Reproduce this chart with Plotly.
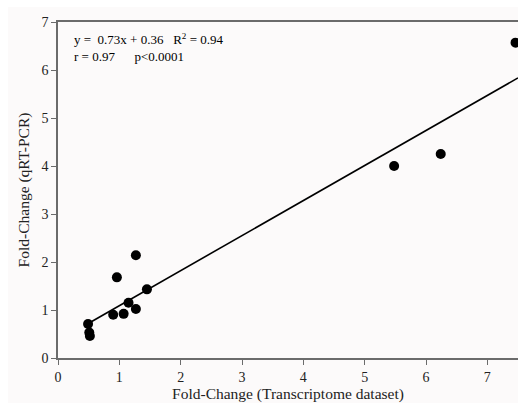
import plotly.graph_objects as go

# Data
transcriptome_fc = [0.49, 0.51, 0.52, 0.90, 0.96, 1.07, 1.15, 1.27, 1.27, 1.45, 5.48, 6.24, 7.46]
qrtpcr_fc = [0.71, 0.53, 0.46, 0.90, 1.68, 0.92, 1.15, 2.14, 1.02, 1.43, 4.00, 4.25, 6.57]
slope = 0.73
intercept = 0.36
fit_x = [0.5, 7.5]
fit_y = [slope * v + intercept for v in fit_x]
x_ticks = [0, 1, 2, 3, 4, 5, 6, 7]
y_ticks = [0, 1, 2, 3, 4, 5, 6, 7]

FONT = "Liberation Serif, Times New Roman, serif"
AXIS_COLOR = "#6b6b6b"
W, H = 518, 403
ML, MR, MT, MB = 58, 0, 22, 45
PW, PH = W - ML - MR, H - MT - MB

fig = go.Figure()
fig.add_trace(go.Scatter(x=fit_x, y=fit_y, mode="lines",
                         line=dict(color="black", width=1.6), showlegend=False, hoverinfo="skip"))
fig.add_trace(go.Scatter(x=transcriptome_fc, y=qrtpcr_fc, mode="markers",
                         marker=dict(color="black", size=10), showlegend=False, cliponaxis=False))

fig.add_annotation(xref="paper", yref="paper", x=0.03, y=0.978, xanchor="left", yanchor="top",
                   align="left", showarrow=False,
                   text="y =  0.73x + 0.36   R<sup>2</sup> = 0.94<br>r = 0.97      p<0.0001",
                   font=dict(family=FONT, size=13, color="black"))

# off-white picture area inside a thin white border (top/left)
fig.add_shape(type="rect", xref="paper", yref="paper",
              x0=(8 - ML) / PW, x1=1.05, y0=-(MB + 5) / PH, y1=1 + (MT - 7) / PH,
              fillcolor="#fcfafa", line=dict(width=0), layer="below")

fig.update_layout(
    width=W, height=H,
    margin=dict(l=ML, r=MR, t=MT, b=MB),
    paper_bgcolor="white",
    plot_bgcolor="rgba(0,0,0,0)",
    font=dict(family=FONT, size=14, color="#222"),
    xaxis=dict(range=[0, 7.5], tickvals=x_ticks, ticks="outside", ticklen=5, tickcolor=AXIS_COLOR,
               showline=True, linecolor=AXIS_COLOR, linewidth=1.5, mirror=True, showgrid=False,
               zeroline=False, tickfont=dict(family=FONT, size=14, color="#222"),
               title=dict(text="Fold-Change (Transcriptome dataset)", standoff=2,
                          font=dict(family=FONT, size=15.5, color="#222"))),
    yaxis=dict(range=[0, 7], tickvals=y_ticks, ticks="outside", ticklen=5, tickcolor=AXIS_COLOR,
               showline=True, linecolor=AXIS_COLOR, linewidth=1.5, showgrid=False,
               zeroline=False, tickfont=dict(family=FONT, size=14, color="#222"),
               title=dict(text="Fold-Change (qRT-PCR)", standoff=8,
                          font=dict(family=FONT, size=15.5, color="#222"))),
)

fig.write_html("out.html", config={"displayModeBar": False},
               post_script="document.body.style.margin='0';"
                           "document.documentElement.style.overflow='hidden';"
                           "document.body.style.overflow='hidden';")
